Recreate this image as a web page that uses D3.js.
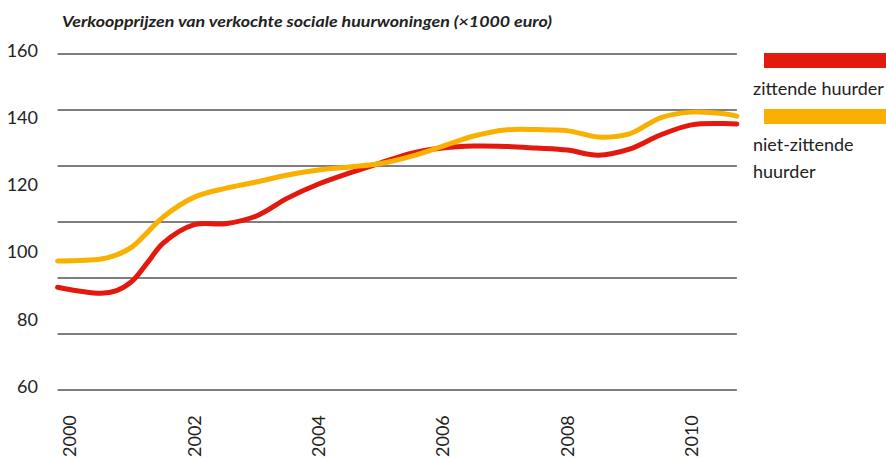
<!DOCTYPE html>
<html>
<head>
<meta charset="utf-8">
<script src="https://cdn.jsdelivr.net/npm/d3@7"></script>
<style>
  body { margin: 0; background: #fff; }
  text { font-family: Lato, "Open Sans", sans-serif; fill: #222; }
</style>
</head>
<body>
<div id="chart"></div>
<script>
// data (mostly half-year steps)
const years = [1999.8, 2000.5, 2000.75, 2001, 2001.25, 2001.5, 2002, 2002.5, 2003, 2003.5, 2004, 2004.5, 2005,
               2005.5, 2006, 2006.5, 2007, 2007.5, 2008, 2008.5, 2009, 2009.5, 2010, 2010.5, 2010.73];
const zittende = [90.6, 88.8, 89.6, 92.4, 98.0, 103.7, 109.2, 109.5, 111.8, 117.1, 121.3, 124.6, 127.6,
                  130.5, 132.0, 132.6, 132.5, 132.0, 131.4, 129.9, 131.7, 135.9, 138.9, 139.3, 139.2];
const nietZittende = [98.4, 99.0, 100.2, 102.6, 107.0, 111.5, 117.4, 120.0, 121.9, 124.0, 125.5, 126.4, 127.4,
                      129.6, 132.6, 135.6, 137.4, 137.5, 137.2, 135.3, 136.2, 141.0, 142.7, 142.3, 141.5];
const tickYears = [2000, 2002, 2004, 2006, 2008, 2010];
const yLabels = [160, 140, 120, 100, 80, 60];
const gridCount = 7;
const series = [
  { name: "zittende huurder", values: zittende, color: "#e3190d" },
  { name: "niet-zittende huurder", values: nietZittende, color: "#f9b000" }
];
const title = "Verkoopprijzen van verkochte sociale huurwoningen (\u00d71000 euro)";

const width = 886, height = 458;

const svg = d3.select("#chart").append("svg")
  .attr("width", width)
  .attr("height", height);

const x = d3.scaleLinear().domain([2000, 2010]).range([70, 691.5]);
const y = d3.scaleLinear().domain([60, 160]).range([390, 54]);

// title
svg.append("text")
  .attr("x", 62).attr("y", 27)
  .attr("font-size", 15)
  .attr("font-weight", 700)
  .attr("font-style", "italic")
  .attr("textLength", 490)
  .attr("lengthAdjust", "spacingAndGlyphs")
  .text(title);

// gridlines: 7 evenly spaced lines over the value domain
const gridVals = d3.range(gridCount).map(i => 60 + i * (100 / (gridCount - 1)));
const x0 = x(years[0]), x1 = x(years[years.length - 1]);
svg.append("g").selectAll("line")
  .data(gridVals)
  .join("line")
  .attr("x1", x0).attr("x2", x1)
  .attr("y1", d => y(d)).attr("y2", d => y(d))
  .attr("stroke", "#555")
  .attr("stroke-width", 1.3);

// y labels
svg.append("g").selectAll("text")
  .data(yLabels)
  .join("text")
  .attr("x", 38)
  .attr("y", d => y(d) - 3.5)
  .attr("dy", "0.35em")
  .attr("text-anchor", "end")
  .attr("font-size", 18)
  .text(d => d);

// x labels, rotated
svg.append("g").selectAll("text")
  .data(tickYears)
  .join("text")
  .attr("transform", d => `translate(${x(d)},457) rotate(-90)`)
  .attr("dy", "0.35em")
  .attr("font-size", 18)
  .text(d => d);

// lines
const line = d3.line()
  .x((d, i) => x(years[i]))
  .y(d => y(d))
  .curve(d3.curveCatmullRom.alpha(0.5));

svg.append("g").selectAll("path")
  .data(series)
  .join("path")
  .attr("d", d => line(d.values))
  .attr("fill", "none")
  .attr("stroke", d => d.color)
  .attr("stroke-width", 5)
  .attr("stroke-linecap", "round")
  .attr("stroke-linejoin", "round");

// legend
const legend = svg.append("g");
legend.append("rect").attr("x", 764).attr("y", 53).attr("width", 122).attr("height", 15).attr("fill", series[0].color);
legend.append("text").attr("x", 753).attr("y", 95).attr("font-size", 18).text("zittende huurder");
legend.append("rect").attr("x", 764).attr("y", 109).attr("width", 122).attr("height", 15).attr("fill", series[1].color);
legend.append("text").attr("x", 753).attr("y", 151).attr("font-size", 18).text("niet-zittende");
legend.append("text").attr("x", 753).attr("y", 178).attr("font-size", 18).text("huurder");
</script>
</body>
</html>
